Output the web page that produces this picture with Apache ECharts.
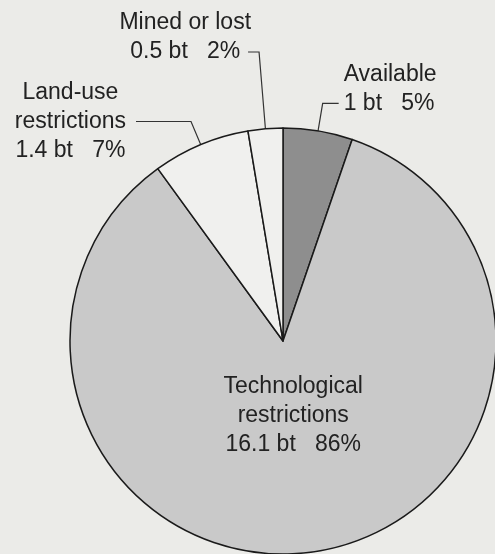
<!DOCTYPE html>
<html>
<head>
<meta charset="utf-8">
<script src="https://cdn.jsdelivr.net/npm/echarts@6/dist/echarts.min.js"></script>
<style>
html,body{margin:0;padding:0;background:#ebebe8;}
#chart{width:495px;height:554px;}
</style>
</head>
<body>
<div id="chart"></div>
<script>
// Data (clockwise from 12 o'clock)
const names = ['Available', 'Technological restrictions', 'Land-use restrictions', 'Mined or lost'];
const nameLines = [['Available'], ['Technological', 'restrictions'], ['Land-use', 'restrictions'], ['Mined or lost']];
const valuesBt = [1, 16.1, 1.4, 0.5];
const pctLabels = ['5%', '86%', '7%', '2%'];

const colors = ['#8e8e8e', '#c9c9c9', '#f0f0ee', '#f0f0ee'];
const lineLens = [[28, 16], null, [25, 55], [77, 11]];
const rich = {
  l: { fontFamily: 'Liberation Sans, Arial, sans-serif', fontSize: 23, lineHeight: 29, color: '#222', align: 'left' },
  c: { fontFamily: 'Liberation Sans, Arial, sans-serif', fontSize: 23, lineHeight: 29, color: '#222', align: 'center' }
};

function labelText(i) {
  const st = (i === 0) ? 'l' : 'c';
  const lines = nameLines[i].concat([valuesBt[i] + ' bt   ' + pctLabels[i]]);
  let out = lines.map(s => '{' + st + '|' + s + '}');
  if (lines.length === 2 && i !== 1) out.push('{' + st + '| }');
  return out.join('\n');
}

const data = names.map((n, i) => {
  const item = {
    name: n,
    value: valuesBt[i],
    itemStyle: { color: colors[i] },
    label: { formatter: labelText(i) }
  };
  if (i === 1) {
    item.label.position = 'inside';
  } else {
    item.labelLine = { show: true, length: lineLens[i][0], length2: lineLens[i][1] };
  }
  if (i === 3) item.label.distanceToLabelLine = -3;
  if (i === 2) item.label.distanceToLabelLine = 10;
  return item;
});

const chart = echarts.init(document.getElementById('chart'));
chart.setOption({
  backgroundColor: '#ebebe8',
  animation: false,
  series: [{
    type: 'pie',
    center: [283, 341],
    radius: 213,
    startAngle: 90,
    clockwise: true,
    avoidLabelOverlap: false,
    silent: true,
    itemStyle: { borderColor: '#1a1a1a', borderWidth: 1.5 },
    label: {
      show: true,
      position: 'outside',
      rich: rich,
      distanceToLabelLine: 5
    },
    labelLine: {
      show: true,
      lineStyle: { color: '#333', width: 1.2 },
      smooth: false
    },
    labelLayout: function (p) {
      if (p.dataIndex === 1) return { dx: -6, dy: -34 };
      return {};
    },
    data: data
  }]
});
</script>
</body>
</html>
